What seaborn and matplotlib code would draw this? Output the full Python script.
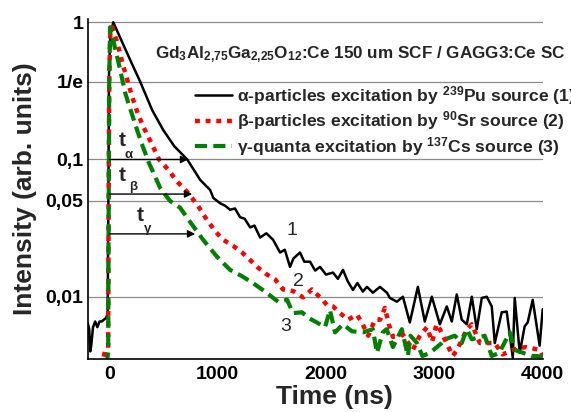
import numpy as np
import pandas as pd
import matplotlib
matplotlib.use("Agg")
import matplotlib.pyplot as plt
from matplotlib.ticker import LogLocator, MultipleLocator, NullFormatter, FixedLocator
import seaborn as sns

sns.set_theme(style="white")
plt.rcParams['font.family'] = ['Liberation Sans', 'DejaVu Sans']
plt.rcParams['mathtext.fontset'] = 'custom'
plt.rcParams['mathtext.rm'] = 'Liberation Sans:bold'
plt.rcParams['mathtext.bf'] = 'Liberation Sans:bold'
plt.rcParams['mathtext.it'] = 'Liberation Sans:bold'
plt.rcParams['mathtext.sf'] = 'Liberation Sans:bold'

# ---------------- data ----------------
t_alpha = [-200, -185, -175, -165, -150, -130, -110, -90, -70, -50, -30, -15, -8, -3, 10, 37,
           147, 200, 286, 396, 498, 600, 720, 839, 931, 960, 1023, 1070, 1115, 1160, 1207, 1250,
           1300, 1340, 1392, 1450, 1512, 1576, 1620, 1668, 1700, 1760, 1800, 1853, 1900, 1945,
           2000, 2065, 2110, 2157, 2200, 2249, 2290, 2340, 2378, 2433, 2498, 2562, 2590, 2654,
           2710, 2774, 2848, 2912, 2977, 3051, 3115, 3161, 3207, 3253, 3300, 3346, 3392, 3438,
           3484, 3530, 3558, 3622, 3668, 3724, 3742, 3788, 3834, 3862, 3908, 3972, 4000]
i_alpha = [0.0065, 0.0058, 0.0040, 0.0045, 0.0060, 0.0066, 0.0060, 0.0066, 0.0066, 0.0068, 0.0070, 0.0075, 0.05, 0.4, 0.8, 1.0,
           0.64, 0.517, 0.368, 0.229, 0.164, 0.125, 0.1, 0.071, 0.06, 0.0525, 0.048, 0.046, 0.043, 0.044, 0.038, 0.037,
           0.032, 0.033, 0.027, 0.029, 0.026, 0.021, 0.022, 0.0165, 0.019, 0.021, 0.018, 0.018, 0.0155, 0.0165,
           0.0145, 0.015, 0.0135, 0.0157, 0.013, 0.0112, 0.0126, 0.0109, 0.0118, 0.0107, 0.0118, 0.0107, 0.0098, 0.0092,
           0.0100, 0.0065, 0.0118, 0.0066, 0.0100, 0.0063, 0.0085, 0.0066, 0.0104, 0.0068, 0.0063, 0.0100, 0.0058, 0.0098,
           0.0100, 0.0085, 0.0046, 0.0077, 0.0078, 0.0036, 0.0098, 0.0039, 0.0061, 0.0065, 0.0095, 0.0044, 0.0081]

t_beta = [-200, -150, -100, -60, -40, -20, -10, -6, 0, 10, 28, 74, 120, 166, 212, 260, 313, 396, 460,
          540, 627, 719, 811, 885, 977, 1051, 1143, 1226, 1300, 1373, 1456, 1530, 1604, 1696, 1788,
          1871, 1963, 2009, 2065, 2129, 2203, 2286, 2330, 2390, 2452, 2500, 2544, 2580, 2618, 2710,
          2802, 2860, 2931, 2980, 3020, 3051, 3170, 3210, 3300, 3346, 3420, 3480, 3558, 3630, 3760,
          3850, 3972, 4000]
i_beta = [0.0034, 0.0032, 0.0033, 0.0034, 0.0040, 0.0041, 0.0042, 0.05, 0.4, 0.85, 0.92, 0.71, 0.51, 0.38, 0.285, 0.22, 0.174, 0.128, 0.1,
          0.085, 0.069, 0.058, 0.047, 0.038, 0.030, 0.026, 0.0235, 0.021, 0.0185, 0.0163, 0.0145, 0.0134, 0.0113, 0.011, 0.0099,
          0.0113, 0.0096, 0.0087, 0.0085, 0.0076, 0.0068, 0.0074, 0.0065, 0.0052, 0.0068, 0.0068, 0.0083, 0.0063, 0.0051, 0.0053,
          0.0041, 0.0051, 0.0060, 0.0047, 0.0063, 0.0058, 0.0037, 0.0041, 0.0058, 0.0063, 0.0046, 0.0046, 0.0046, 0.0038, 0.0042,
          0.0043, 0.0041, 0.0037]

t_gamma = [-200, -150, -100, -50, -20, -10, -5, 0, 8, 40, 85, 150, 240, 300, 365, 470, 560, 654,
           747, 866, 996, 1115, 1226, 1318, 1438, 1558, 1641, 1696, 1779, 1840, 1899, 1991, 2037,
           2083, 2157, 2240, 2341, 2433, 2470, 2525, 2560, 2618, 2700, 2756, 2780, 2840, 2890, 2960,
           3069, 3100, 3189, 3253, 3300, 3346, 3465, 3530, 3600, 3696, 3742, 3820, 3900, 3950, 4000]
i_gamma = [0.0033, 0.0032, 0.0031, 0.0033, 0.0034, 0.0040, 0.05, 0.4, 0.92, 0.72, 0.51, 0.30, 0.18, 0.13, 0.095, 0.062, 0.05, 0.0445,
           0.035, 0.026, 0.0195, 0.0157, 0.0141, 0.0127, 0.0109, 0.0092, 0.0095, 0.0076, 0.0077, 0.0070, 0.0066, 0.0060, 0.0080,
           0.0055, 0.0063, 0.0056, 0.0055, 0.0058, 0.0039, 0.0055, 0.0058, 0.0043, 0.0058, 0.0037, 0.0052, 0.0046, 0.0037, 0.0039,
           0.0046, 0.0049, 0.0052, 0.0046, 0.0058, 0.0049, 0.0052, 0.0037, 0.0039, 0.0055, 0.0041, 0.0039, 0.0037, 0.0037, 0.0036]

series_labels = ["α-particles excitation by $^{239}$Pu source (1)",
                 "β-particles excitation by $^{90}$Sr source (2)",
                 "γ-quanta excitation by $^{137}$Cs source (3)"]
series_colors = ["black", "#ff0000", "#008000"]

ytick_vals = [0.01, 0.05, 0.1, 1/np.e, 1.0]
ytick_labels = ["0,01", "0,05", "0,1", "1/e", "1"]
xtick_vals = [0, 1000, 2000, 3000, 4000]

# arrows (t_alpha, t_beta, t_gamma): level and end time
arrow_levels = [0.1, 0.056, 0.0287]
arrow_ends = [728, 765, 793]

# ---------------- figure ----------------
fig = plt.figure(figsize=(5.71, 4.12), dpi=100)
ax = fig.add_axes([0.1534, 0.1279, 0.797, 0.8265])

for v in ytick_vals:
    ax.axhline(v, color="#8a8a8a", lw=0.9, zorder=0.5)

data = [(t_alpha, i_alpha), (t_beta, i_beta), (t_gamma, i_gamma)]
widths = [1.8, 3.2, 3.0]
dash_patterns = [None, (1.1, 1.3), (2.9, 1.5)]
for (tt, ii), lab, col, lw, dp in zip(data, series_labels, series_colors, widths, dash_patterns):
    df = pd.DataFrame({"t": tt, "I": ii})
    sns.lineplot(data=df, x="t", y="I", ax=ax, color=col, lw=lw, label=lab,
                 estimator=None, sort=False)
    ln = ax.lines[-1]
    if dp is not None:
        ln.set_dashes(dp)
        ln.set_dash_capstyle('butt')

ax.set_yscale("log")
ax.set_xlim(-200, 4000)
ax.set_ylim(0.0035, 1.06)

ax.yaxis.set_major_locator(FixedLocator(ytick_vals))
ax.set_yticklabels(ytick_labels)
ax.yaxis.set_minor_locator(LogLocator(base=10, subs=np.arange(2, 10)))
ax.yaxis.set_minor_formatter(NullFormatter())
ax.set_xticks(xtick_vals)
ax.xaxis.set_minor_locator(MultipleLocator(500))

ax.tick_params(which="both", direction="in", colors="black", width=1.0)
ax.tick_params(which="major", length=6, labelsize=14)
ax.tick_params(axis="y", which="major", pad=3.0)
ax.tick_params(axis="x", which="major", pad=5)
ax.tick_params(which="minor", length=3.5)
for lbl in ax.get_xticklabels() + ax.get_yticklabels():
    lbl.set_fontweight("bold")

for s in ["top", "right"]:
    ax.spines[s].set_visible(False)
for s in ["left", "bottom"]:
    ax.spines[s].set_color("black")
    ax.spines[s].set_linewidth(1.2)

ax.set_xlabel("Time (ns)", fontsize=19, fontweight="bold")
ax.set_ylabel("Intensity (arb. units)", fontsize=19, fontweight="bold")
ax.xaxis.set_label_coords(0.5414, -0.074)
ax.yaxis.set_label_coords(-0.112, 0.5)

# arrows and t labels
for lev, end in zip(arrow_levels, arrow_ends):
    ax.annotate("", xy=(end, lev), xytext=(0, lev),
                arrowprops=dict(arrowstyle="-|>", color="black", lw=1.0,
                                mutation_scale=11, shrinkA=0, shrinkB=0))
t_pos = [(122, 0.138), (122, 0.0767), (283, 0.0392)]
sub_pos = [(182, 0.108), (219, 0.0627), (353, 0.0313)]
subs = ["α", "β", "γ"]
for (tx, ty), (sx, sy), s in zip(t_pos, sub_pos, subs):
    ax.text(tx, ty, "t", fontsize=15, fontweight="bold", ha="center", va="center")
    ax.text(sx, sy, s, fontsize=9.5, fontweight="bold", ha="center", va="center")

# curve numbers
for (nx, ny), n in zip([(1686, 0.0302), (1742, 0.01286), (1631, 0.00605)], ["1", "2", "3"]):
    ax.text(nx, ny, n, fontsize=14, ha="center", va="center")

# title text
ax.text((155 - 87.6) / 455.1, (359.3 - 58) / 340.5,
        "Gd$_3$Al$_{2{,}75}$Ga$_{2{,}25}$O$_{12}$:Ce 150 um SCF / GAGG3:Ce SC",
        transform=ax.transAxes, fontsize=12.3, fontweight="bold", ha="left", va="baseline")

leg = ax.legend(loc="upper left", bbox_to_anchor=(195 / 571, 1 - 84 / 412),
                bbox_transform=fig.transFigure, frameon=False,
                prop={"weight": "bold", "size": 12.6}, handlelength=2.1,
                handletextpad=0.3, labelspacing=0.14, borderpad=0, borderaxespad=0)

fig.savefig("out.png", dpi=100)
